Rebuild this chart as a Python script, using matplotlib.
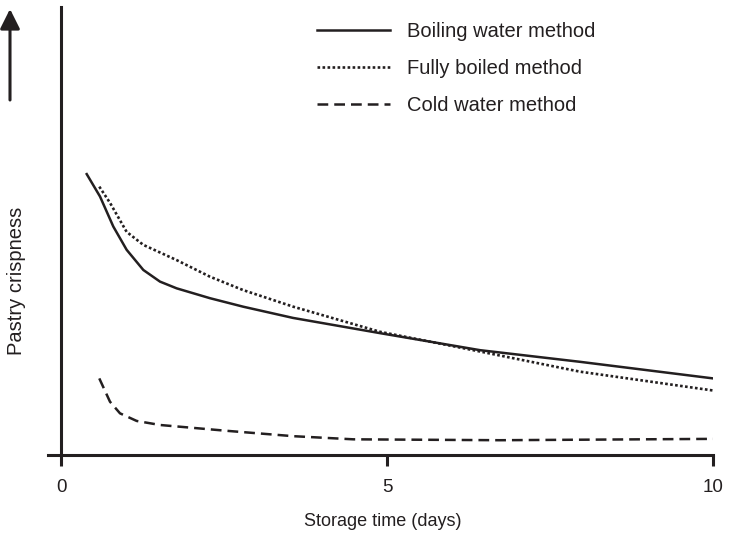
import numpy as np
import matplotlib
matplotlib.use("Agg")
import matplotlib.pyplot as plt

# values (y in arbitrary units, 0-100)
boil_days = [0.387, 0.591, 0.795, 1.0, 1.256, 1.512, 1.768, 2.279, 2.790, 3.553, 4.889, 6.424, 7.959, 10.0]
boil_crisp = [62.7, 57.7, 51.0, 45.8, 41.3, 38.7, 37.2, 35.0, 33.1, 30.6, 27.2, 23.4, 20.8, 17.1]

full_days = [0.580, 0.744, 1.0, 1.256, 1.768, 2.279, 2.790, 3.558, 4.889, 6.424, 7.959, 10.0]
full_crisp = [59.9, 56.3, 49.8, 46.9, 43.5, 39.8, 36.8, 33.1, 27.5, 23.1, 18.6, 14.4]

cold_days = [0.580, 0.744, 0.898, 1.154, 1.512, 2.536, 3.558, 4.479, 6.73, 10.0]
cold_crisp = [17.1, 11.9, 9.3, 7.6, 6.7, 5.4, 4.2, 3.5, 3.3, 3.6]

labels = ["Boiling water method", "Fully boiled method", "Cold water method"]
xticks = [0, 5, 10]

ink = "#231f20"
plt.rcParams["font.family"] = ["Liberation Sans", "DejaVu Sans"]

W, H = 734, 538
fig = plt.figure(figsize=(W / 100, H / 100), dpi=100)
ax = fig.add_axes([48 / W, (H - 455) / H, (713 - 48) / W, (455 - 7) / H])

ax.plot(boil_days, boil_crisp, color=ink, lw=1.8, ls="-", label=labels[0])
ax.plot(full_days, full_crisp, color=ink, lw=1.9, ls=(0, (1, 0.9)), label=labels[1])
ax.plot(cold_days, cold_crisp, color=ink, lw=1.8, ls=(0, (4.3, 2.4)), label=labels[2])

ax.set_xlim(-(61.5 - 48) / 65.15, 10)
ax.set_ylim(0, 100)
ax.spines["top"].set_visible(False)
ax.spines["right"].set_visible(False)
ax.spines["left"].set_position(("data", 0))
for s in ["left", "bottom"]:
    ax.spines[s].set_linewidth(2.2)
    ax.spines[s].set_color(ink)
ax.set_yticks([])
ax.set_xticks(xticks)
ax.set_xticklabels([str(t) for t in xticks])
ax.tick_params(axis="x", direction="out", length=8, width=2.2, color=ink,
               labelsize=13.5, labelcolor=ink, pad=9)

leg = ax.legend(loc="upper left", bbox_to_anchor=(317 / W, 1 - 22 / H),
                bbox_transform=fig.transFigure, frameon=False, fontsize=14.5,
                handlelength=3.6, handletextpad=0.85, labelspacing=0.9,
                borderpad=0, borderaxespad=0)
for t in leg.get_texts():
    t.set_color(ink)

fig.text(383 / W, 1 - 522 / H, "Storage time (days)", ha="center", va="center",
         fontsize=13, color=ink)
fig.text(17 / W, 1 - 281 / H, "Pastry crispness", ha="center", va="center",
         rotation=90, fontsize=14.5, color=ink)

ax.annotate("", xy=(10, H - 9), xytext=(10, H - 100), xycoords="figure pixels",
            arrowprops=dict(arrowstyle="-|>", lw=2.2, color=ink, mutation_scale=30,
                            shrinkA=0, shrinkB=0))

fig.savefig("out.png", dpi=100)
